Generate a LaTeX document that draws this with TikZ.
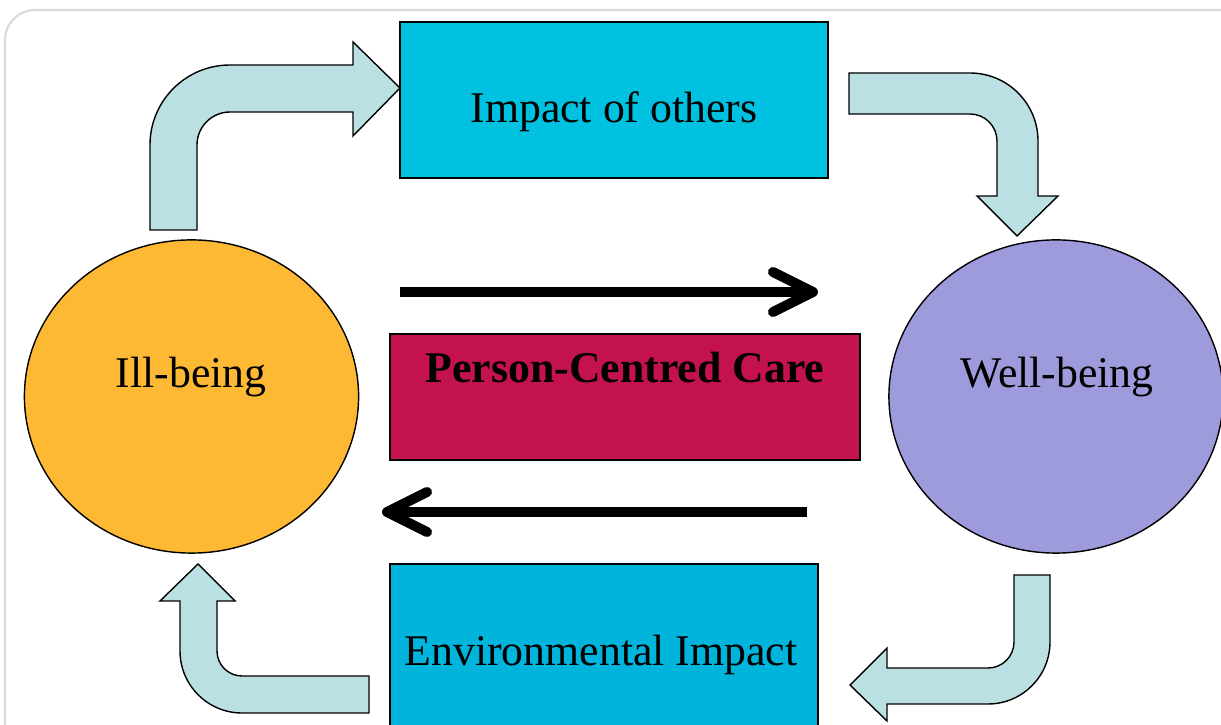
\documentclass[tikz,border=0pt]{standalone}
\usepackage{fontspec}
\setmainfont{Liberation Serif}
\usetikzlibrary{arrows.meta}
\usetikzlibrary{shapes.geometric}

\definecolor{cyanbox}{RGB}{0,194,224}
\definecolor{envbox}{RGB}{0,180,220}
\definecolor{carebox}{RGB}{196,18,80}
\definecolor{illfill}{RGB}{253,185,51}
\definecolor{wellfill}{RGB}{158,155,220}
\definecolor{bentfill}{RGB}{187,224,227}

\tikzset{
  box/.style={draw=black, line width=0.4pt, rectangle, inner sep=0pt},
  blob/.style={draw=black, line width=0.4pt, ellipse, inner sep=0pt,
    minimum width=3.34cm, minimum height=3.13cm},
  lbl/.style={anchor=base, inner sep=0pt, font=\fontsize{12.45}{15}\selectfont},
  bent/.style={fill=bentfill, draw=black, line width=0.4pt, line join=miter},
  flow/.style={line width=2.85pt,
    -{Straight Barb[length=0.4cm, width=0.40cm, round]}}
}

\begin{document}
\begin{tikzpicture}[x=0.01cm, y=-0.01cm]
  \useasboundingbox (0,0) rectangle (1221,725);
  \draw [black!15, line width=0.6pt, rounded corners=0.3cm] (5,10) rectangle (1260,760);

  \node [box, fill=cyanbox, minimum width=4.28cm, minimum height=1.56cm] (others) at (614,100) {};
  \node [lbl] (otherstext) at (614,123) {Impact of others};

  \node [box, fill=carebox, minimum width=4.70cm, minimum height=1.26cm] (care) at (625,397) {};
  \node [lbl, font=\fontsize{12.45}{15}\selectfont\bfseries] (caretext) at (625,383) {Person-Centred Care};

  \node [box, fill=envbox, minimum width=4.28cm, minimum height=1.80cm] (env) at (604,654) {};
  \node [lbl] (envtext) at (601,666) {Environmental Impact};

  \node [blob, fill=illfill] (ill) at (191.5,396.5) {};
  \node [lbl] (illtext) at (191,388) {Ill-being};
  \node [blob, fill=wellfill] (well) at (1056,396.5) {};
  \node [lbl] (welltext) at (1057,388) {Well-being};

  \coordinate (towell0) at (400,292);
  \coordinate (towell1) at (818,292);
  \coordinate (toill0) at (807,512);
  \coordinate (toill1) at (382,512);
  \draw [flow] (towell0) -- (towell1);
  \draw [flow] (toill0) -- (toill1);

  \filldraw [bent] (150,230) -- (150,145) .. controls (150,100.8) and (185.8,65) .. (230,65)
    -- (353,65) -- (353,42) -- (400,88) -- (353,136) -- (353,112) -- (230,112)
    .. controls (211.8,112) and (197,126.8) .. (197,145) -- (197,230) -- cycle;

  \filldraw [bent] (849,73) -- (970,73) .. controls (1007.5,73) and (1038,103.5) .. (1038,141)
    -- (1038,196) -- (1058,196) -- (1017,236) -- (977,196) -- (997,196) -- (997,141)
    .. controls (997,126.1) and (984.9,114) .. (970,114) -- (849,114) -- cycle;

  \filldraw [bent] (1014,575) -- (1050,575) -- (1050,642) .. controls (1050,676.2) and (1022.2,704) .. (988,704)
    -- (887,704) -- (887,721) -- (850,685) -- (887,648) -- (887,668) -- (988,668)
    .. controls (1002.4,668) and (1014,656.4) .. (1014,642) -- cycle;

  \filldraw [bent] (369,676) -- (369,713) -- (242,713) .. controls (207.8,713) and (180,685.2) .. (180,651)
    -- (180,601) -- (160,601) -- (198,564) -- (235,601) -- (217,601) -- (217,651)
    .. controls (217,664.8) and (228.2,676) .. (242,676) -- cycle;
\end{tikzpicture}
\end{document}
